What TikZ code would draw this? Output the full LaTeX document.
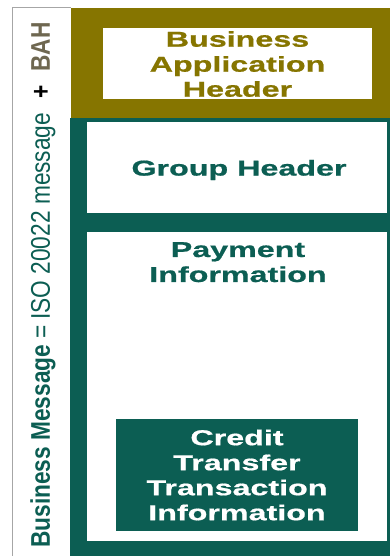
\documentclass[tikz,border=0pt]{standalone}
\usepackage{fontspec}
\setmainfont{Liberation Sans}
\newfontfamily\narrowfont[FakeStretch=0.84]{Liberation Sans}
\newfontfamily\widefont[FakeStretch=1.5,FakeBold=0.8]{Liberation Sans}
\definecolor{olive}{HTML}{867500}
\definecolor{teal}{HTML}{0C5E53}
\definecolor{bahgray}{HTML}{6E6750}
\begin{document}
\begin{tikzpicture}[x=1pt,y=-1pt,
  lbl/.style={font=\widefont\bfseries\fontsize{21.5}{25}\selectfont, align=center, inner sep=0pt}]
\useasboundingbox (0,0) rectangle (390,556);
\fill[white] (0,0) rectangle (390,556);
% left strip
\draw[gray!70, line width=1pt] (12,556) -- (12,8) -- (71,8);
% olive BAH band
\fill[olive] (71,8) rectangle (390,118);
\fill[white] (103,28) rectangle (372,99);
\node[lbl, text=olive] (bah) at (237.5,64) {Business\\Application\\Header};
% teal document
\fill[teal] (70,118) rectangle (390,556);
\fill[white] (87,122) rectangle (387,213);
\node[lbl, text=teal] (grp) at (239,170) {Group Header};
\fill[white] (87,232) rectangle (387,541);
\node[lbl, text=teal, anchor=north] (pmt) at (238,242) {Payment\\Information};
\fill[teal] (116,419) rectangle (358,531);
\node[lbl, text=white] (cdt) at (237,475) {Credit\\Transfer\\Transaction\\Information};
% vertical text
\node[rotate=90, anchor=west, inner sep=0pt, font=\narrowfont\fontsize{27}{30}\selectfont] (side) at (43,548)
  {\textcolor{teal}{\bfseries Business Message}\hspace{6pt}\textcolor{teal}{=\hspace{6pt}ISO 20022 message}\hspace{14pt}\textcolor{black}{\bfseries +}\hspace{14pt}\textcolor{bahgray}{\bfseries BAH}};
\end{tikzpicture}
\end{document}
